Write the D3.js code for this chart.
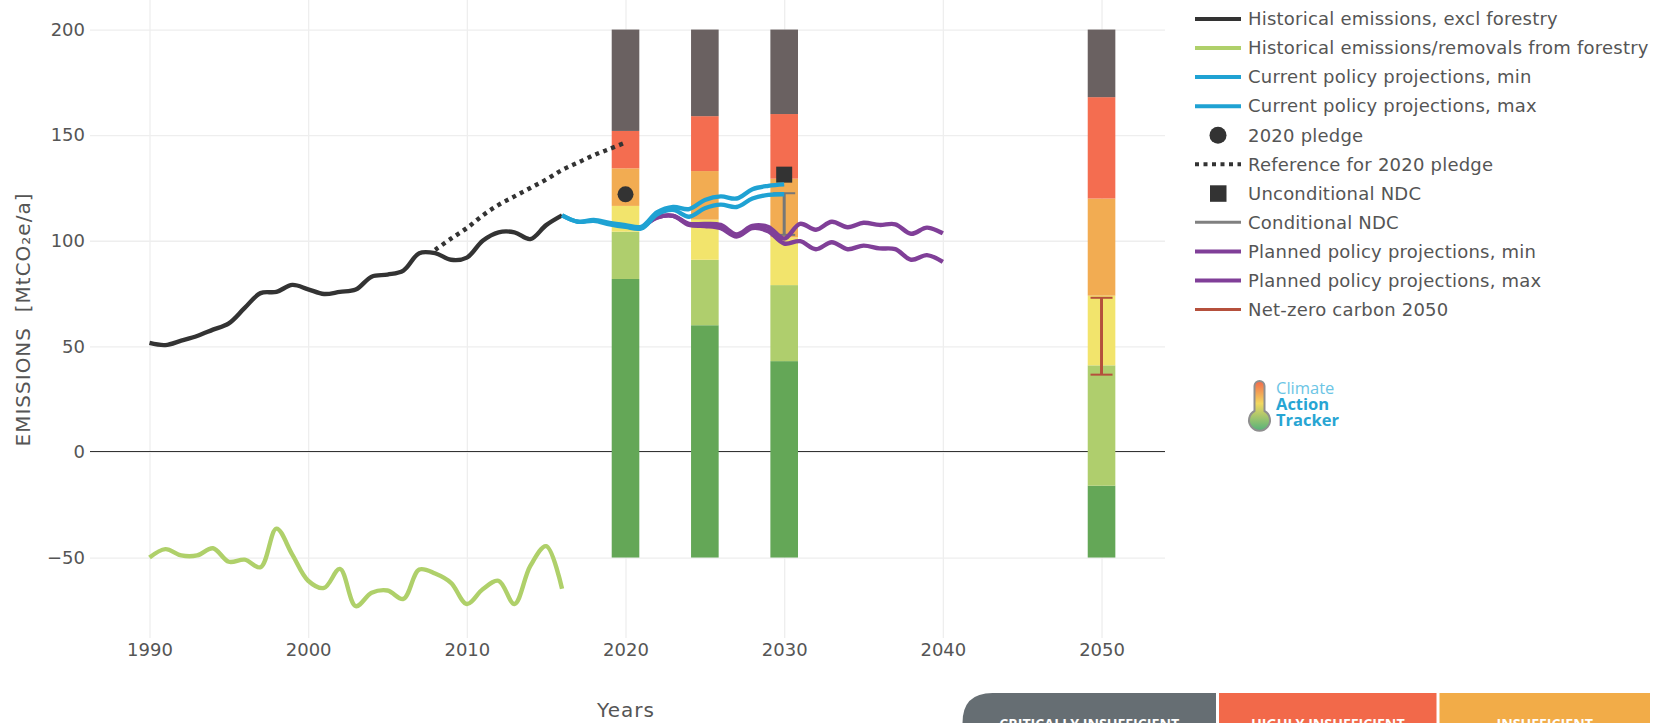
<!DOCTYPE html>
<html>
<head>
<meta charset="utf-8">
<script src="https://cdn.jsdelivr.net/npm/d3@7"></script>
<style>
  html, body { margin: 0; padding: 0; background: white; overflow: hidden; }
</style>
</head>
<body>
<script>
const canvas_width = 1653;
const canvas_height = 723;
const plot_left = 90;
const plot_right = 1165;
const plot_top = 0; // the grid runs on past 200 up to the window edge
const plot_bottom = 638;
const text_color = "#555";
const grid_color = "#eee";
const chart_font = "'DejaVu Sans', sans-serif";
const line_width = 4.4;

// historical series
const history_years = d3.range(1990, 2017);
const history_emissions = [51.6, 50.6, 52.7, 54.9, 57.9, 60.9, 68.2, 75.2, 75.8, 79.1, 77, 74.8, 75.8, 76.9, 83, 84, 85.9, 94.1, 94.1, 91, 92, 100, 104, 104, 100.8, 107.4, 112];
const forestry_emissions = [-50, -46, -49, -49, -45.6, -52, -51, -54.6, -36.3, -48.6, -61, -64.4, -55.4, -73, -66.7, -65.6, -69.6, -55.7, -57.6, -62, -72, -65, -61, -72, -54, -44.6, -64.8];

const reference_years = d3.range(2008, 2021);
const reference_2020 = [95.7, 101, 106, 112, 117, 121, 125, 129, 133.5, 137, 140.5, 143.5, 146.5];

const current_years = d3.range(2016, 2031);
const current_min = [112, 109, 109.4, 107.8, 106.6, 105.8, 112.5, 114.6, 111.4, 115.4, 117.1, 116, 120, 121.7, 122];
const current_max = [112, 109, 109.8, 108.4, 107.4, 106.6, 113.5, 116, 115, 119.3, 121, 120, 124.4, 126, 126.7];

const planned_years = d3.range(2021, 2041);
const planned_min = [106, 111, 111.8, 107.5, 107, 106, 102, 106, 104.5, 98.7, 99.8, 96, 99.3, 96, 97.7, 96.4, 96, 91, 93.2, 90];
const planned_max = [106, 111, 111.8, 108, 108, 107.5, 103, 107, 106.5, 101, 108, 105.2, 109, 106.4, 108.5, 107.5, 107.8, 103.3, 106.2, 103.5];

const pledge_year = 2020;
const pledge_value = 122;
const ndc_year = 2030;
const ndc_unconditional = 131.3;
const ndc_conditional = [102.8, 122.5];
const net_zero_year = 2050;
const net_zero_range = [36.6, 73];

// rating bars: upper edge of each band, in MtCO2e/a
const bar_years = [2020, 2025, 2030, 2050];
const bar_base = -50;
const bar_width_years = 1.74;
const band_colors = ["#64a757", "#afce6d", "#f2e46c", "#f2ac52", "#f46d50", "#6a6161"];
const band_tops = [
    [81.9, 60, 43, -16],
    [104.3, 91, 79, 41],
    [116.5, 110, 101.6, 74],
    [134.3, 133, 129.4, 120],
    [152, 159, 160, 168],
    [200, 200, 200, 200]
];

const y_ticks = [-50, 0, 50, 100, 150, 200];
const x_ticks = [1990, 2000, 2010, 2020, 2030, 2040, 2050];

const legend_labels = [
    "Historical emissions, excl forestry",
    "Historical emissions/removals from forestry",
    "Current policy projections, min",
    "Current policy projections, max",
    "2020 pledge",
    "Reference for 2020 pledge",
    "Unconditional NDC",
    "Conditional NDC",
    "Planned policy projections, min",
    "Planned policy projections, max",
    "Net-zero carbon 2050"
];
const legend_kinds = ["line", "line", "line", "line", "circle", "dots", "square", "line", "line", "line", "line"];
const legend_colors = ["#333", "#afd06a", "#1fa2d3", "#1fa2d3", "#333", "#333", "#333", "#808080", "#803f98", "#803f98", "#b5503c"];

const tab_labels = ["CRITICALLY INSUFFICIENT", "HIGHLY INSUFFICIENT", "INSUFFICIENT"];
const tab_colors = ["#666e73", "#f2694a", "#f2ac48"];
const tab_edges = [962.5, 1219, 1439.5, 1653];

const x = d3.scaleLinear().domain([1986.25, 2054]).range([plot_left, plot_right]);
const y = d3.scaleLinear().domain([-88.1, 214]).range([plot_bottom, plot_top]);

const svg = d3.select("body").append("svg")
    .attr("width", canvas_width)
    .attr("height", canvas_height)
    .style("display", "block")
    .style("font-family", chart_font);

// axes double as grid: long ticks, then the labels are pushed out
const x_axis = svg.append("g")
    .attr("transform", `translate(0,${plot_bottom})`)
    .call(d3.axisBottom(x).tickValues(x_ticks).tickFormat(d3.format("d")).tickSize(-(plot_bottom - plot_top)).tickPadding(5));
const y_axis = svg.append("g")
    .attr("transform", `translate(${plot_left},0)`)
    .call(d3.axisLeft(y).tickValues(y_ticks).tickSize(-(plot_right - plot_left)).tickPadding(5));

[x_axis, y_axis].forEach(axis => {
    axis.select(".domain").remove();
    axis.selectAll("line").attr("stroke", grid_color).attr("stroke-width", 1.3);
    axis.selectAll("text")
        .attr("fill", text_color)
        .style("font-family", chart_font)
        .style("font-size", "18px");
});

// zero line sits under the bars
svg.append("line")
    .attr("x1", plot_left)
    .attr("x2", plot_right)
    .attr("y1", y(0))
    .attr("y2", y(0))
    .attr("stroke", "#333")
    .attr("stroke-width", 1)
    .attr("shape-rendering", "crispEdges");

band_tops.forEach((tops, band) => {
    svg.append("g").selectAll("rect")
        .data(bar_years)
        .enter()
        .append("rect")
        .attr("x", d => x(d - bar_width_years / 2))
        .attr("width", x(bar_width_years) - x(0))
        .attr("y", (d, i) => y(tops[i]))
        .attr("height", (d, i) => y(band === 0 ? bar_base : band_tops[band - 1][i]) - y(tops[i]))
        .attr("fill", band_colors[band]);
});

const line_path = (years, values) => d3.line()
    .x((d, i) => x(years[i]))
    .y(d => y(d))
    .curve(d3.curveCatmullRom.alpha(0.5))(values);

function drawLine(years, values, color, dash) {
    return svg.append("path")
        .attr("d", line_path(years, values))
        .attr("fill", "none")
        .attr("stroke", color)
        .attr("stroke-width", line_width)
        .attr("stroke-dasharray", dash || null);
}

function drawErrorBar(year, range, color) {
    const cap_half = 11;
    const g = svg.append("g").attr("stroke", color).attr("stroke-width", 3);
    g.append("line")
        .attr("x1", x(year)).attr("x2", x(year))
        .attr("y1", y(range[0])).attr("y2", y(range[1]));
    g.selectAll(".cap")
        .data(range)
        .enter()
        .append("line")
        .attr("class", "cap")
        .attr("stroke-width", 2)
        .attr("x1", x(year) - cap_half).attr("x2", x(year) + cap_half)
        .attr("y1", d => y(d)).attr("y2", d => y(d));
}

drawLine(history_years, history_emissions, "#333");
drawLine(history_years, forestry_emissions, "#afd06a");
drawLine(reference_years, reference_2020, "#333", "4,4.5");

svg.append("rect")
    .attr("x", x(ndc_year) - 8)
    .attr("y", y(ndc_unconditional) - 8)
    .attr("width", 16)
    .attr("height", 16)
    .attr("fill", "#333");

drawErrorBar(ndc_year, ndc_conditional, "#777");

drawLine(planned_years, planned_min, "#803f98");
drawLine(planned_years, planned_max, "#803f98");
drawLine(current_years, current_min, "#1fa2d3");
drawLine(current_years, current_max, "#1fa2d3");

svg.append("circle")
    .attr("cx", x(pledge_year))
    .attr("cy", y(pledge_value))
    .attr("r", 8)
    .attr("fill", "#333");

drawErrorBar(net_zero_year, net_zero_range, "#b5503c");

// axis titles
svg.append("text")
    .attr("transform", "translate(30,319.5) rotate(-90)")
    .attr("text-anchor", "middle")
    .attr("fill", text_color)
    .style("font-size", "20px")
    .style("letter-spacing", "1px")
    .style("white-space", "pre")
    .text("EMISSIONS  [MtCO₂e/a]");

svg.append("text")
    .attr("x", 626)
    .attr("y", 717)
    .attr("text-anchor", "middle")
    .attr("fill", text_color)
    .style("font-size", "20px")
    .style("letter-spacing", "1px")
    .text("Years");

// legend
const legend_x = 1195;
const legend_row = 29.05;
const legend_rows = svg.append("g").selectAll("g")
    .data(legend_labels)
    .enter()
    .append("g")
    .attr("transform", (d, i) => `translate(${legend_x},${19 + i * legend_row})`);

legend_rows.append("text")
    .attr("x", 53)
    .attr("dy", "0.35em")
    .attr("fill", text_color)
    .style("font-size", "18px")
    .style("letter-spacing", "0.22px")
    .text(d => d);

legend_rows.each(function (d, i) {
    const row = d3.select(this);
    const kind = legend_kinds[i];
    if (kind === "circle") {
        row.append("circle").attr("cx", 23).attr("r", 8.5).attr("fill", legend_colors[i]);
    } else if (kind === "square") {
        row.append("rect").attr("x", 15).attr("y", -8).attr("width", 16.5).attr("height", 16.5).attr("fill", legend_colors[i]);
    } else {
        row.append("line")
            .attr("x2", 46)
            .attr("stroke", legend_colors[i])
            .attr("stroke-width", (i === 7 || i === 10) ? 3 : 4)
            .attr("stroke-dasharray", kind === "dots" ? "4,4.5" : null);
    }
});

// Climate Action Tracker logo
const logo = svg.append("g");
const thermo_gradient = svg.append("defs").append("linearGradient")
    .attr("id", "thermo")
    .attr("x1", 0).attr("x2", 0).attr("y1", 0).attr("y2", 1);
thermo_gradient.selectAll("stop")
    .data([[0, "#f2694a"], [0.45, "#f2d860"], [1, "#55b27a"]])
    .enter()
    .append("stop")
    .attr("offset", d => d[0])
    .attr("stop-color", d => d[1]);
logo.append("path")
    .attr("d", "M1254.5 386a5 5 0 0 1 10 0v25a10.5 10.5 0 1 1 -10 0z")
    .attr("fill", "url(#thermo)")
    .attr("stroke", "#8f8f8f")
    .attr("stroke-width", 2);
logo.append("text").attr("x", 1276).attr("y", 394).attr("fill", "#6cc5e5")
    .style("font-family", "'Open Sans', sans-serif")
    .style("font-size", "16.5px").text("Climate");
logo.append("text").attr("x", 1276).attr("y", 410).attr("fill", "#27a5d3")
    .style("font-family", "'Open Sans', sans-serif")
    .style("font-size", "16.5px").style("font-weight", "bold").text("Action");
logo.append("text").attr("x", 1276).attr("y", 425.5).attr("fill", "#27a5d3")
    .style("font-family", "'Open Sans', sans-serif")
    .style("font-size", "16.5px").style("font-weight", "bold").text("Tracker");

// rating tabs, cut off by the bottom of the window
const tabs = svg.append("g").selectAll("g")
    .data(tab_labels)
    .enter()
    .append("g");
tabs.append("path")
    .attr("d", (d, i) => {
        const x0 = tab_edges[i];
        const x1 = tab_edges[i + 1] - 3;
        const r = i === 0 ? 30 : 0;
        return `M${x0} 723V${693 + r}Q${x0} 693 ${x0 + r} 693H${x1}V723Z`;
    })
    .attr("fill", (d, i) => tab_colors[i]);
tabs.append("text")
    .attr("x", (d, i) => (tab_edges[i] + tab_edges[i + 1] - 3) / 2)
    .attr("y", 728.5)
    .attr("text-anchor", "middle")
    .attr("fill", "white")
    .style("font-family", "'Open Sans', sans-serif")
    .style("font-weight", "bold")
    .style("font-size", "14.2px")
    .text(d => d);
</script>
</body>
</html>
